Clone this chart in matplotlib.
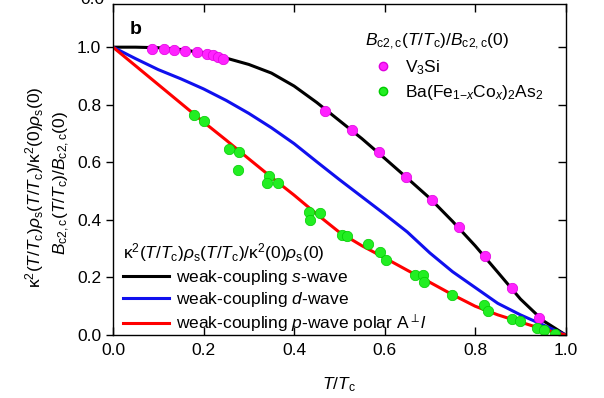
import matplotlib
matplotlib.use('Agg')
import matplotlib.pyplot as plt
from matplotlib.lines import Line2D

plt.rcParams['font.family'] = ['Liberation Sans', 'DejaVu Sans']
plt.rcParams['mathtext.fontset'] = 'custom'
plt.rcParams['mathtext.rm'] = 'Liberation Sans'
plt.rcParams['mathtext.it'] = 'Liberation Sans:italic'
plt.rcParams['mathtext.bf'] = 'Liberation Sans:bold'
plt.rcParams['font.size'] = 12.5

# model curves
t_curve = [0.0, 0.05, 0.1, 0.15, 0.2, 0.25, 0.3, 0.35, 0.4, 0.45, 0.5,
           0.55, 0.6, 0.65, 0.7, 0.75, 0.8, 0.85, 0.9, 0.95, 1.0]
s_wave = [1.0, 1.0, 0.998, 0.992, 0.98, 0.962, 0.94, 0.91, 0.865, 0.808, 0.745,
          0.682, 0.614, 0.545, 0.475, 0.395, 0.31, 0.218, 0.125, 0.05, 0.0]
d_wave = [1.0, 0.96, 0.922, 0.89, 0.855, 0.815, 0.77, 0.72, 0.665, 0.602, 0.54,
          0.48, 0.42, 0.358, 0.285, 0.22, 0.165, 0.11, 0.07, 0.035, 0.0]
p_wave = [1.0, 0.935, 0.87, 0.805, 0.74, 0.677, 0.612, 0.548, 0.486, 0.42, 0.357,
          0.31, 0.268, 0.225, 0.183, 0.14, 0.10, 0.07, 0.045, 0.02, 0.0]

# V3Si
v3si_t = [0.087, 0.113, 0.135, 0.160, 0.185, 0.207, 0.222, 0.233, 0.244,
          0.469, 0.528, 0.587, 0.648, 0.705, 0.764, 0.822, 0.882, 0.940]
v3si_b = [0.993, 0.993, 0.989, 0.986, 0.982, 0.978, 0.972, 0.967, 0.959,
          0.778, 0.711, 0.636, 0.549, 0.470, 0.375, 0.274, 0.163, 0.060]

# Ba(Fe1-xCox)2As2
bfca_t = [0.180, 0.202, 0.257, 0.279, 0.276, 0.344, 0.341, 0.364,
          0.432, 0.436, 0.458, 0.506, 0.517, 0.563, 0.590, 0.602,
          0.668, 0.685, 0.688, 0.749, 0.819, 0.828, 0.882, 0.900,
          0.937, 0.951, 0.976]
bfca_b = [0.766, 0.744, 0.645, 0.636, 0.575, 0.551, 0.528, 0.529,
          0.427, 0.401, 0.425, 0.346, 0.343, 0.317, 0.287, 0.259,
          0.209, 0.210, 0.184, 0.140, 0.105, 0.082, 0.056, 0.047,
          0.024, 0.016, 0.002]

fig = plt.figure(figsize=(6.04, 3.98), dpi=100)
ax = fig.add_axes([113 / 604, 63 / 398, 452.7 / 604, 331 / 398])

l1, = ax.plot(t_curve, s_wave, color='black', lw=2.2)
l2, = ax.plot(t_curve, d_wave, color='#1010ee', lw=2.2)
l3, = ax.plot(t_curve, p_wave, color='#ff0000', lw=2.2)

ax.plot(v3si_t, v3si_b, 'o', color='#ff22ff', mec='#dd00dd', mew=0.5, ms=7.5, ls='none')
ax.plot(bfca_t, bfca_b, 'o', color='#22ee22', mec='#00cc00', mew=0.5, ms=7.5, ls='none')

ax.set_xlim(0, 1)
ax.set_ylim(0, 1.15)
ax.set_xticks([0.0, 0.2, 0.4, 0.6, 0.8, 1.0])
ax.set_yticks([0.0, 0.2, 0.4, 0.6, 0.8, 1.0])
ax.xaxis.set_major_formatter(matplotlib.ticker.FormatStrFormatter('%.1f'))
ax.yaxis.set_major_formatter(matplotlib.ticker.FormatStrFormatter('%.1f'))
ax.tick_params(axis='x', direction='in', top=True, length=6, width=1, pad=6)
ax.tick_params(axis='y', left=True, direction='out', length=5, width=1)
ax.tick_params(axis='y', right=True, labelright=False)
# right-hand ticks point inward
for tk in ax.yaxis.get_major_ticks():
    tk.tick2line.set_marker(matplotlib.lines.TICKLEFT)
    tk.tick2line.set_markersize(6)
for s in ax.spines.values():
    s.set_linewidth(1.0)

ax.set_xlabel('$T/T_\\mathrm{c}$', labelpad=12)
fig.text(35 / 604, 1 - 187 / 398,
         '$\\mathrm{κ}^2(T/T_\\mathrm{c})ρ_\\mathrm{s}(T/T_\\mathrm{c})/\\mathrm{κ}^2(0)ρ_\\mathrm{s}(0)$',
         rotation=90, ha='center', va='center')
fig.text(62 / 604, 1 - 183 / 398,
         '$B_\\mathrm{c2,c}(T/T_\\mathrm{c})/B_\\mathrm{c2,c}(0)$',
         rotation=90, ha='center', va='center')
ax.text(0.038, 1.06, 'b', fontweight='bold', fontsize=14, ha='left', va='center')

# remnant of the panel above (cut by the top edge, as in the source)
fig.text(80 / 604, 1.0, '0.0', ha='left', va='center')

h1 = Line2D([], [], marker='o', ls='none', color='#ff22ff', mec='#dd00dd', ms=6)
h2 = Line2D([], [], marker='o', ls='none', color='#22ee22', mec='#00cc00', ms=6)
leg1 = ax.legend([h1, h2], ['V$_3$Si', 'Ba(Fe$_{1\\mathrm{-}x}$Co$_x$)$_2$As$_2$'],
                 title='$B_\\mathrm{c2,c}(T/T_\\mathrm{c})/B_\\mathrm{c2,c}(0)$',
                 loc='upper left', bbox_to_anchor=(362 / 604, 1 - 28 / 398),
                 bbox_transform=fig.transFigure, frameon=False,
                 handletextpad=0.3, labelspacing=0.35, alignment='left',
                 borderaxespad=0, borderpad=0.2)
leg1.get_title().set_fontsize(12.5)
ax.add_artist(leg1)

ax.legend([l1, l2, l3],
          ['weak-coupling $s$-wave', 'weak-coupling $d$-wave',
           'weak-coupling $p$-wave polar A$^{\\perp}$$l$'],
          title='$\\mathrm{κ}^2(T/T_\\mathrm{c})ρ_\\mathrm{s}(T/T_\\mathrm{c})/\\mathrm{κ}^2(0)ρ_\\mathrm{s}(0)$',
          loc='upper left', bbox_to_anchor=(120 / 604, 1 - 238 / 398),
          bbox_transform=fig.transFigure, frameon=False,
          handlelength=2.6, handletextpad=0.4, labelspacing=0.2, alignment='left',
          borderaxespad=0, borderpad=0.2)

fig.savefig('out.png', dpi=100)
